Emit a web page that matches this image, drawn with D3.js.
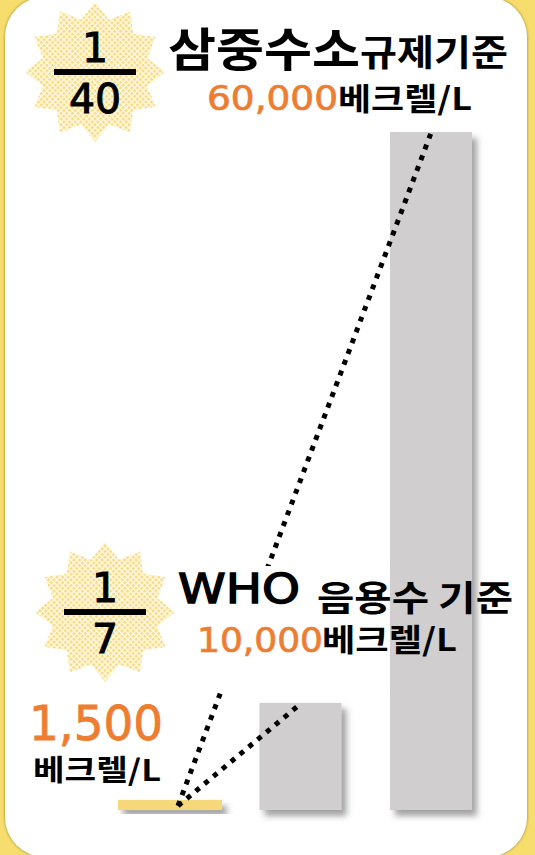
<!DOCTYPE html>
<html>
<head>
<meta charset="utf-8">
<script src="https://cdn.jsdelivr.net/npm/d3@7"></script>
<style>
  body { margin: 0; background: #f7dc6e; }
  svg { display: block; }
  text { font-family: "Noto Sans CJK KR", "Noto Sans", sans-serif; }
  text.num { font-family: "DejaVu Sans", sans-serif; }
</style>
</head>
<body>
<script>
var w = 535,
    h = 855;

// Data
var categories = ['배출수', 'WHO 음용수 기준', '삼중수소 규제기준'];
var values = [1500, 10000, 60000];
var unit = '베크렐/L';
var titleMain = '삼중수소',
    titleSub = '규제기준';
var whoMain = 'WHO',
    whoSub = '음용수 기준';

var fmt = d3.format(',');
var orange = '#ed7d31';

var svg = d3.select('body')
            .append('svg')
            .attr('width', w)
            .attr('height', h);

var defs = svg.append('defs');

// bar shadow
var f = defs.append('filter').attr('id', 'shadow')
            .attr('x', '-20%').attr('y', '-20%')
            .attr('width', '150%').attr('height', '150%');
f.append('feDropShadow')
 .attr('dx', 5).attr('dy', 6)
 .attr('stdDeviation', 3)
 .attr('flood-color', '#555')
 .attr('flood-opacity', 0.55);

// panel edge shadow
var pf = defs.append('filter').attr('id', 'edge')
             .attr('x', '-5%').attr('y', '-5%')
             .attr('width', '110%').attr('height', '110%');
pf.append('feDropShadow')
  .attr('dx', 0).attr('dy', 0)
  .attr('stdDeviation', 1.8)
  .attr('flood-color', '#7a6a10')
  .attr('flood-opacity', 0.8);

// checkered fill for the stars
var pat = defs.append('pattern').attr('id', 'check')
              .attr('patternUnits', 'userSpaceOnUse')
              .attr('width', 4).attr('height', 4)
              .attr('patternTransform', 'rotate(45)');
pat.append('rect').attr('width', 4).attr('height', 4).attr('fill', '#fffaea');
pat.append('rect').attr('width', 2.6).attr('height', 2.6).attr('fill', '#f9da7a');

// background
svg.append('rect')
   .attr('width', w).attr('height', h)
   .attr('fill', '#f7dc6e');
svg.append('rect')
   .attr('x', 5).attr('y', -3)
   .attr('width', 522).attr('height', 860)
   .attr('rx', 40).attr('ry', 40)
   .attr('fill', '#fff')
   .attr('filter', 'url(#edge)');

// Scales
var y = d3.scaleLinear()
          .domain([0, 60000])
          .range([817, 132]);
var x = d3.scalePoint()
          .domain(categories)
          .range([170, 431]);
var base = 810,
    barW = 82,
    baseW = 104;

// Stars (12 points)
var star = d3.lineRadial()
             .angle(function(d) { return d * Math.PI / 12; })
             .radius(function(d) { return d % 2 ? 54 : 70; })
             .curve(d3.curveLinearClosed);
var starPts = d3.range(24);

var fractions = [
  {i: 2, cx: 95, cy: 72},
  {i: 1, cx: 105, cy: 612}
];

fractions.forEach(function(s) {
  var g = svg.append('g').attr('transform', 'translate(' + s.cx + ',' + s.cy + ')');
  g.append('path').attr('d', star(starPts)).attr('fill', 'url(#check)');
  g.append('text').attr('class', 'num').attr('y', -10).attr('text-anchor', 'middle')
   .attr('font-size', 41).attr('stroke', '#000').attr('stroke-width', 1).text('1');
  g.append('rect').attr('x', -41).attr('y', -3)
   .attr('width', 82).attr('height', 6).attr('fill', '#000');
  g.append('text').attr('class', 'num').attr('y', 41).attr('text-anchor', 'middle')
   .attr('font-size', 41).attr('stroke', '#000').attr('stroke-width', 1)
   .text(Math.round(values[s.i] / values[0]));
});

// Bars
svg.selectAll('rect.bar')
   .data(values)
   .enter()
   .append('rect')
   .attr('class', 'bar')
   .attr('x', function(d, i) { return x(categories[i]) - (i ? barW : baseW) / 2; })
   .attr('y', function(d) { return y(d); })
   .attr('width', function(d, i) { return i ? barW : baseW; })
   .attr('height', function(d) { return base - y(d); })
   .attr('fill', function(d, i) { return i ? '#d0cecf' : '#f6d77a'; })
   .attr('filter', 'url(#shadow)');

// Dotted lines from the small bar to the others
var x0 = x(categories[0]) + 8,
    y0 = y(values[0]) + 6;
svg.selectAll('line.link')
   .data(values.slice(1))
   .enter()
   .append('line')
   .attr('x1', x0).attr('y1', y0)
   .attr('x2', function(d, i) { return x(categories[i + 1]); })
   .attr('y2', function(d) { return y(d) + 1; })
   .attr('stroke', '#000')
   .attr('stroke-width', 5)
   .attr('stroke-dasharray', '5,6.5');

// WHO label box (hides the line behind the text)
svg.append('rect')
   .attr('x', 176).attr('y', 566)
   .attr('width', 212).attr('height', 124)
   .attr('fill', '#fff');

// Labels
function label(txt, lx, ly, size, len, cls, bold, col, sw) {
  svg.append('text')
     .attr('class', cls)
     .attr('x', lx).attr('y', ly)
     .attr('font-size', size)
     .attr('font-weight', bold ? 'bold' : 'normal')
     .attr('fill', col || '#000')
     .attr('stroke', sw ? (col || '#000') : 'none')
     .attr('stroke-width', sw || 0)
     .attr('textLength', len)
     .attr('lengthAdjust', 'spacingAndGlyphs')
     .text(txt);
}

label(titleMain, 168, 66, 46, 192, '', true);
label(titleSub, 360, 66, 36, 148, '', true);
label(fmt(values[2]), 207, 110, 33, 131, 'num', false, orange, 0.7);
label(unit, 338, 110, 31, 134, '', true);

label(whoMain, 178, 603, 41, 122, 'num', false, '#000', 1.4);
label(whoSub, 317, 611, 35, 196, '', true);
label(fmt(values[1]), 197, 652, 34, 126, 'num', false, orange, 0.7);
label(unit, 322, 651, 31, 135, '', true);

label(fmt(values[0]), 29, 740, 48, 134, 'num', false, orange, 0.8);
label(unit, 33, 781, 29, 128, '', true);
</script>
</body>
</html>
